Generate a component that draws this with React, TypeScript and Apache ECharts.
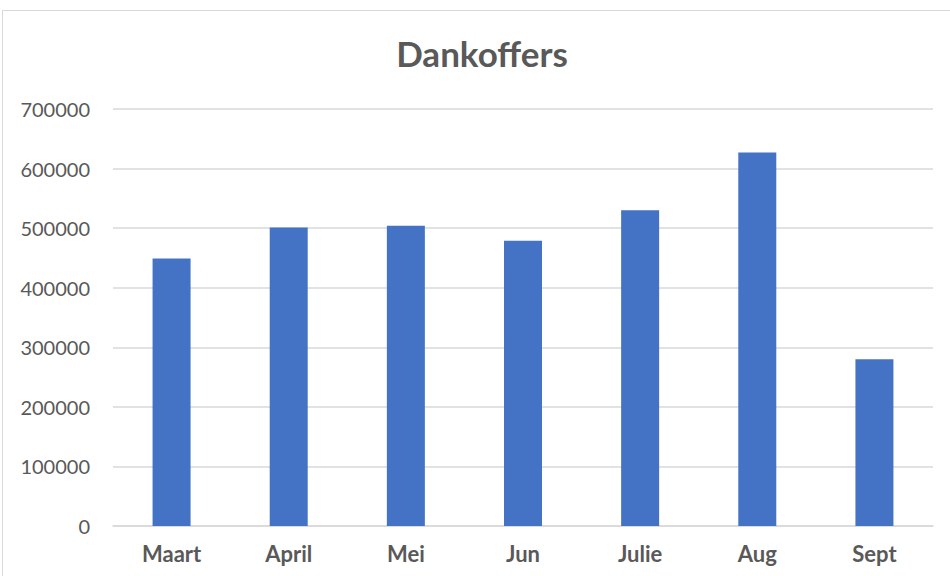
import React, { useEffect, useRef } from "react";
import * as echarts from "echarts";

const categories = ["Maart", "April", "Mei", "Jun", "Julie", "Aug", "Sept"];
const values = [449000, 501000, 504000, 479000, 530000, 627000, 280000];
const yTicks = { min: 0, max: 700000, interval: 100000 };
const titleText = "Dankoffers";

export default function App() {
  const ref = useRef<HTMLDivElement>(null);
  useEffect(() => {
    if (!ref.current) return;
    const chart = echarts.init(ref.current, null, { renderer: "svg" });
    chart.setOption({
      animation: false,
      backgroundColor: "#ffffff",
      title: {
        text: titleText,
        left: 477,
        textAlign: "center",
        top: 30,
        textStyle: { fontFamily: "Lato", fontWeight: "bold", fontSize: 35, color: "#595959" },
      },
      graphic: [
        {
          type: "rect",
          shape: { x: 2.5, y: 10.5, width: 1000, height: 700 },
          style: { fill: "none", stroke: "#d9d9d9", lineWidth: 1 },
          silent: true,
        },
      ],
      grid: { left: 113, right: 17, top: 109, bottom: 50 },
      xAxis: {
        type: "category",
        data: categories,
        axisLine: { show: true, lineStyle: { color: "#d9d9d9", width: 1.5 } },
        axisTick: { show: false },
        axisLabel: {
          margin: 16,
          fontFamily: "Lato",
          fontWeight: "bold",
          fontSize: 22,
          color: "#595959",
        },
      },
      yAxis: {
        type: "value",
        min: yTicks.min,
        max: yTicks.max,
        interval: yTicks.interval,
        axisLine: { show: false },
        axisTick: { show: false },
        splitLine: { lineStyle: { color: "#d9d9d9", width: 1.5 } },
        axisLabel: {
          margin: 23,
          fontFamily: "Lato",
          fontSize: 20,
          color: "#595959",
          formatter: (v: number) => String(v),
        },
      },
      series: [
        {
          type: "bar",
          data: values,
          barWidth: 38,
          itemStyle: { color: "#4472C4" },
        },
      ],
    });
    return () => chart.dispose();
  }, []);
  return (
    <div
      ref={ref}
      style={{ position: "fixed", left: 0, top: 0, width: 950, height: 576 }}
    />
  );
}
